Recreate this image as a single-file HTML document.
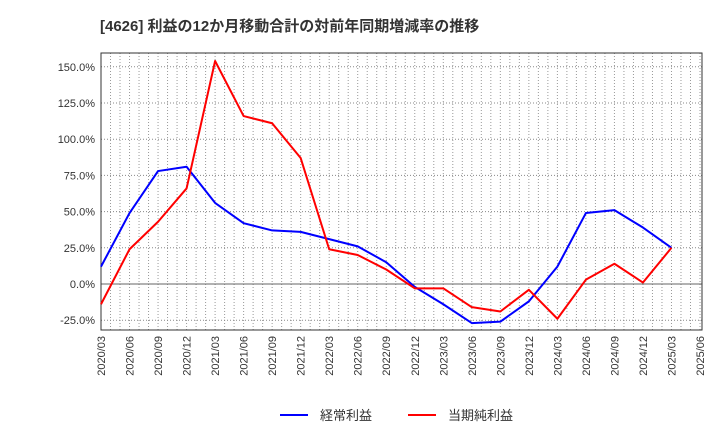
<!DOCTYPE html>
<html><head><meta charset="utf-8"><style>
body{margin:0;background:#fff;font-family:"Liberation Sans","Noto Sans CJK JP",sans-serif;}
</style></head><body>
<svg width="720" height="440" xmlns="http://www.w3.org/2000/svg" id="c" font-family="Liberation Sans, Noto Sans CJK JP, sans-serif">
<text x="100" y="31" font-size="15" font-weight="bold" fill="#333">[4626]  利益の12か月移動合計の対前年同期増減率の推移</text>
<g id="grid"></g>
<g id="axes"></g>
<g id="series"></g>
<g>
<line x1="280" y1="415" x2="308" y2="415" stroke="#0000ff" stroke-width="2"/>
<text x="320" y="420" font-size="13" fill="#333">経常利益</text>
<line x1="408" y1="415" x2="436" y2="415" stroke="#ff0000" stroke-width="2"/>
<text x="448" y="420" font-size="13" fill="#333">当期純利益</text>
</g>
</svg>
<script>
const categories=["2020/03","2020/06","2020/09","2020/12","2021/03","2021/06","2021/09","2021/12","2022/03","2022/06","2022/09","2022/12","2023/03","2023/06","2023/09","2023/12","2024/03","2024/06","2024/09","2024/12","2025/03","2025/06"];
const keijo=[12,49,78,81,56,42,37,36,31,26,15,-2,-14,-27,-26,-12,12,49,51,39,25];
const junri=[-14,24,43,66,154,116,111,87,24,20,10,-3,-3,-16,-19,-4,-24,3,14,1,25];
const yTicks=[-25,0,25,50,75,100,125,150];
const NS="http://www.w3.org/2000/svg";
const L=101,R=702,T=53,B=330;
const x0=101,dx=(700-101)/21;
function X(i){return x0+i*dx;}
function Y(v){return 284-v*(36.2/25);}
function mk(tag,attrs,parent){const e=document.createElementNS(NS,tag);for(const k in attrs)e.setAttribute(k,attrs[k]);parent.appendChild(e);return e;}
const grid=document.getElementById('grid'),axes=document.getElementById('axes'),ser=document.getElementById('series');
for(let m=0;m<=63;m++){const x=x0+m*dx/3;if(x>R)break;
 const l=mk('line',{x1:x,y1:T,x2:x,y2:B,stroke:'#999','stroke-width':1,'stroke-dasharray':'1,2'},grid);
 
 }
yTicks.forEach(v=>{const y=Y(v);
 const l=mk('line',{x1:L,y1:y,x2:R,y2:y,stroke:v===0?'#666':'#888','stroke-width':1,'stroke-dasharray':v===0?'':'1,2'},grid);
 
 
 const t=mk('text',{x:L-6,y:y+4,'font-size':11,fill:'#333','text-anchor':'end'},axes);
 t.textContent=v.toFixed(1)+'%';
 
 });
categories.forEach((c,i)=>{const x=X(i);
 const t=mk('text',{x:0,y:0,'font-size':11,fill:'#333','text-anchor':'end',transform:`translate(${x+4},${B+6}) rotate(-90)`},axes);
 t.textContent=c;
 
 });
const fr=mk('rect',{x:L,y:T,width:R-L,height:B-T,fill:'none',stroke:'#333','stroke-width':1},axes);


function line(d,col,name){const p=mk('polyline',{points:d.map((v,i)=>X(i)+','+Y(v)).join(' '),fill:'none',stroke:col,'stroke-width':2,'stroke-linejoin':'round'},ser);
 
 }
line(keijo,'#0000ff','series-keijo-line');
line(junri,'#ff0000','series-junri-line');
</script>
</body></html>
